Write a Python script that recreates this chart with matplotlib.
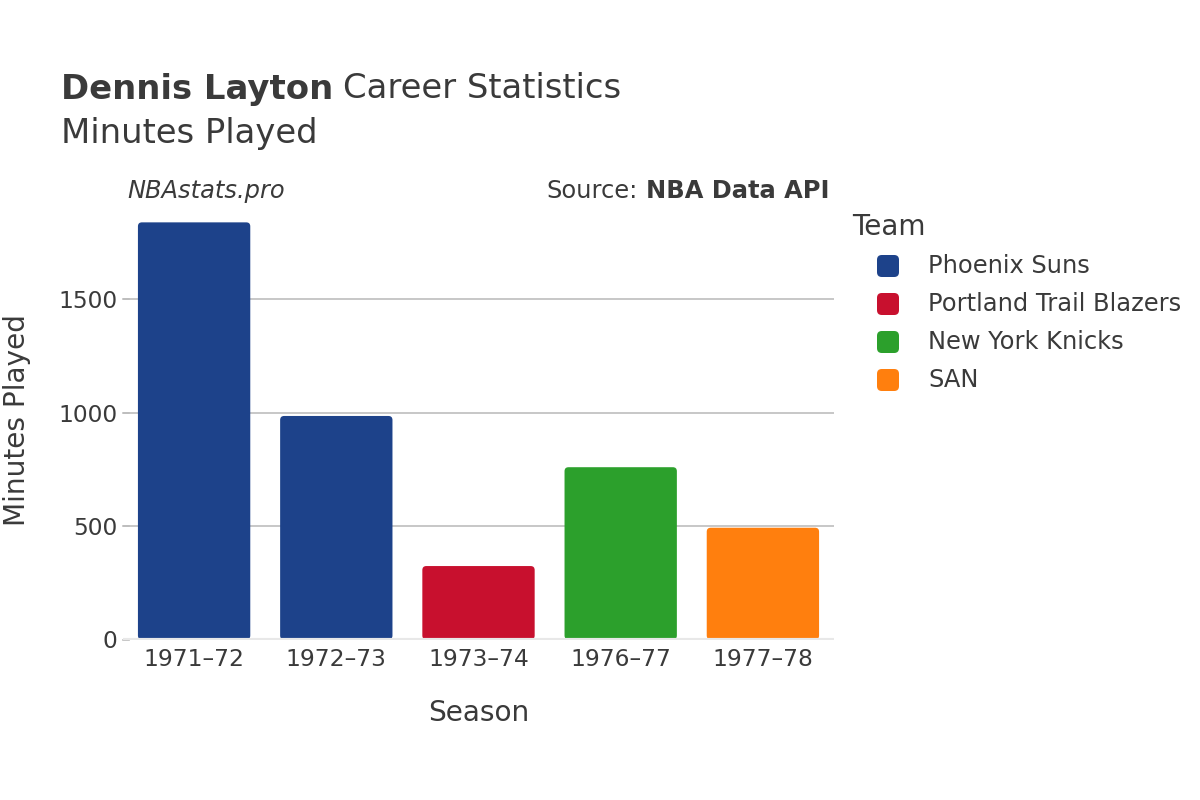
import matplotlib

matplotlib.use("Agg")

import matplotlib.pyplot as plt
from matplotlib.patches import FancyBboxPatch

seasons = ["1971–72", "1972–73", "1973–74", "1976–77", "1977–78"]
minutes = [1840, 986, 324, 760, 493]
season_team = ["Phoenix Suns", "Phoenix Suns", "Portland Trail Blazers", "New York Knicks", "SAN"]

teams = ["Phoenix Suns", "Portland Trail Blazers", "New York Knicks", "SAN"]
team_colors = ["#1D428A", "#C8102E", "#2CA02C", "#FF7F0E"]
yticks = [0, 500, 1000, 1500]

TEXT = "#3a3a3a"
plt.rcParams["font.family"] = ["DejaVu Sans"]

fig = plt.figure(figsize=(12, 8), dpi=100)
ax = fig.add_axes([123 / 1200, 1 - 639.5 / 800, (834 - 123) / 1200, (639.5 - 201.5) / 800])

color_of = dict(zip(teams, team_colors))
ax.set_xlim(-0.5, len(seasons) - 0.5)
ax.set_ylim(0, 1932)

# rounded bars: corner radius ~4px converted to data units
px_x = (len(seasons)) / 711
px_y = 1932 / 438
r = 4 * px_x
width = 0.79
for i, (val, team) in enumerate(zip(minutes, season_team)):
    patch = FancyBboxPatch(
        (i - width / 2, 0), width, val,
        boxstyle=f"round,pad=0,rounding_size={r}",
        mutation_aspect=px_y / px_x,
        facecolor=color_of[team], edgecolor="none", zorder=3,
    )
    ax.add_patch(patch)

ax.set_yticks(yticks)
ax.set_yticklabels([str(t) for t in yticks])
ax.set_xticks(range(len(seasons)))
ax.set_xticklabels(seasons)
ax.grid(axis="y", color="#bdbdbd", linewidth=1.2, zorder=0)
ax.axhline(0, color="#e8e8e8", linewidth=3, zorder=4)
for s in ax.spines.values():
    s.set_visible(False)
ax.tick_params(axis="y", length=0, labelsize=16.8, labelcolor=TEXT, pad=4)
ax.tick_params(axis="x", length=0, labelsize=16.8, labelcolor=TEXT, pad=6)
# short grey ticks just left of the plot area
for t in yticks:
    ax.plot([-0.5, -0.46], [t, t], color="#bdbdbd", linewidth=1.2, zorder=1, clip_on=False)

ax.set_xlabel("Season", fontsize=20.2, color=TEXT, labelpad=20)
fig.text(17 / 1200, 1 - 420 / 800, "Minutes Played", rotation=90, fontsize=20.2,
         color=TEXT, ha="center", va="center")

# title
t1 = fig.text(61 / 1200, 1 - 89 / 800, "Dennis Layton", fontsize=24.4, fontweight="bold",
              color=TEXT, va="center")
fig.canvas.draw()
bb = t1.get_window_extent()
fig.text(bb.x1 / 1200 + 0.008, 1 - 89 / 800, "Career Statistics", fontsize=24.4,
         color=TEXT, va="center")
fig.text(61 / 1200, 1 - 133 / 800, "Minutes Played", fontsize=24.4, color=TEXT, va="center")

# annotations
fig.text(127 / 1200, 1 - 191 / 800, "NBAstats.pro", fontsize=17.4, style="italic",
         color=TEXT, va="center")
s2 = fig.text(830 / 1200, 1 - 191 / 800, "NBA Data API", fontsize=17.4, fontweight="bold",
              color=TEXT, va="center", ha="right")
fig.canvas.draw()
bb2 = s2.get_window_extent()
fig.text(bb2.x0 / 1200 - 0.007, 1 - 191 / 800, "Source:", fontsize=17.4,
         color=TEXT, va="center", ha="right")

# legend
fig.text(852 / 1200, 1 - 227 / 800, "Team", fontsize=20.2, color=TEXT, va="center")
for k, (name, col) in enumerate(zip(teams, team_colors)):
    yc = 266 + 38 * k
    box = FancyBboxPatch(
        ((877) / 1200, 1 - (yc + 11) / 800), 22 / 1200, 22 / 800,
        boxstyle="round,pad=0,rounding_size=0.004", mutation_aspect=1.5,
        transform=fig.transFigure, facecolor=col, edgecolor="none",
    )
    fig.patches.append(box)
    fig.text(928 / 1200, 1 - yc / 800, name, fontsize=17.4, color=TEXT, va="center")

fig.savefig("out.png", dpi=100)
